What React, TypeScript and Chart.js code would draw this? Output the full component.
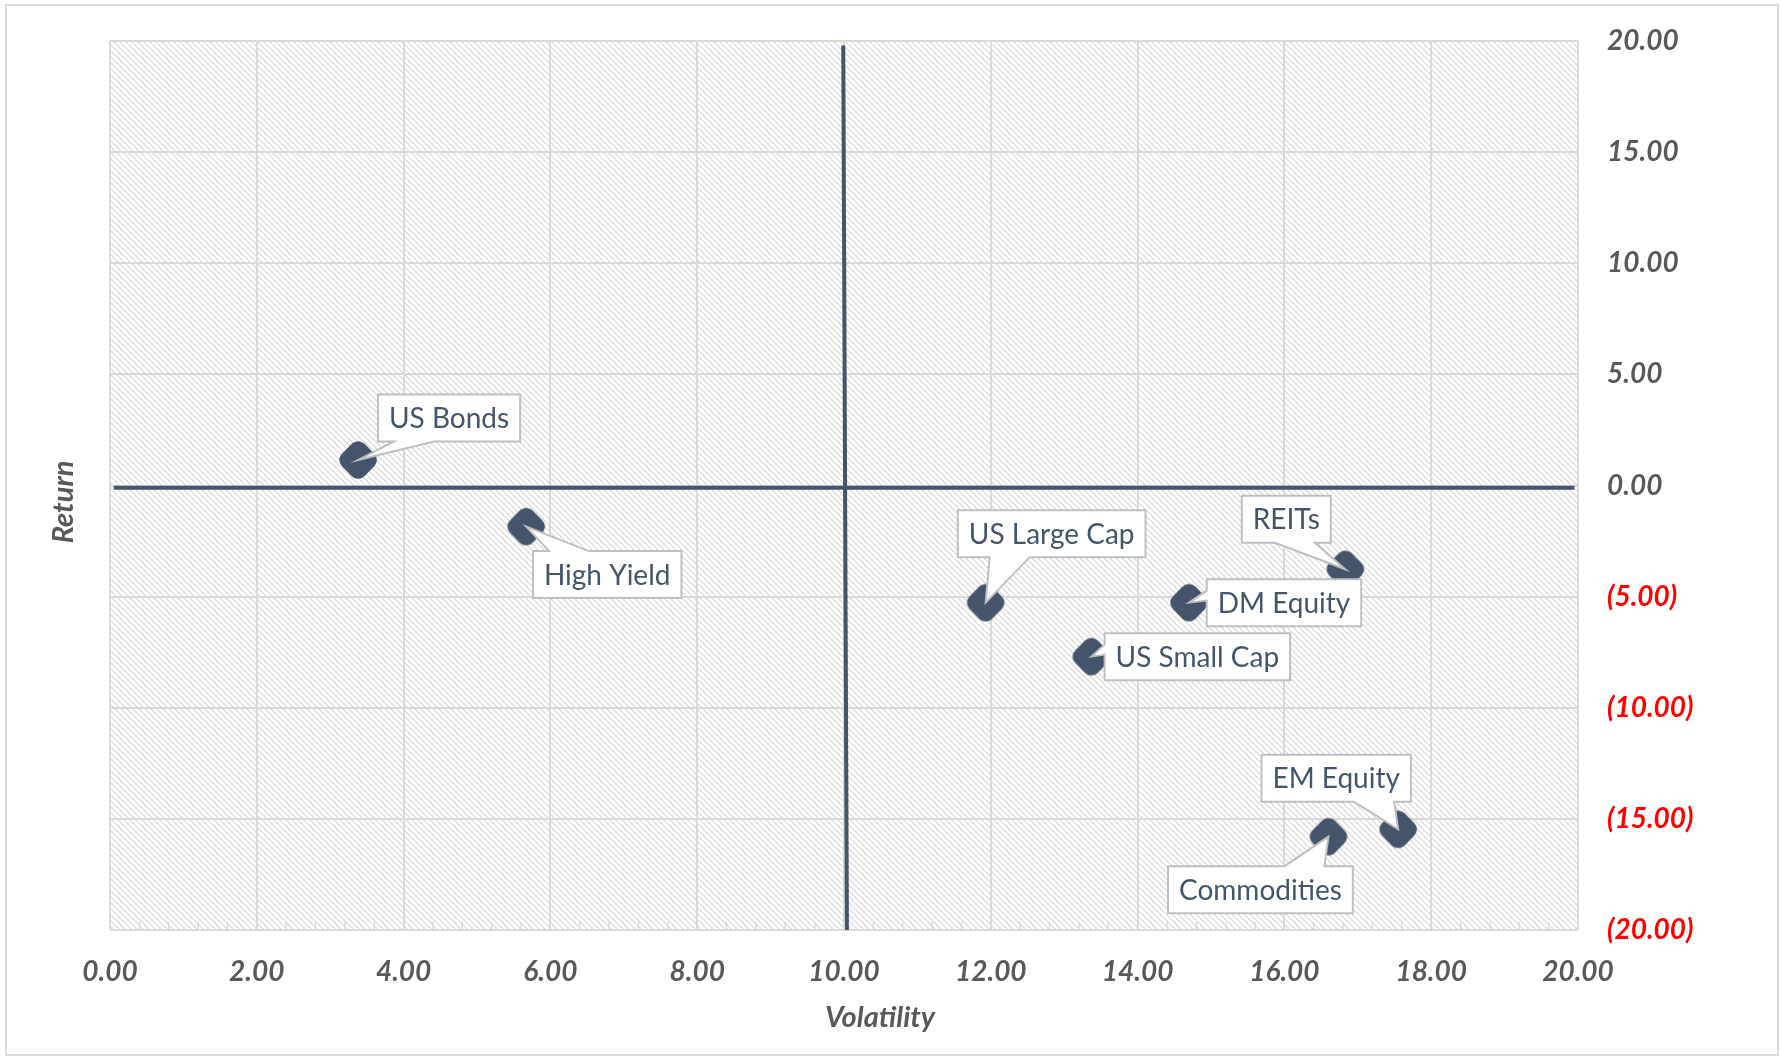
import React, { useEffect, useRef } from 'react';
import { Chart, registerables } from 'chart.js';

Chart.register(...registerables);

// Asset classes plotted as volatility (x) vs. return (y)
const assetNames = ['US Bonds', 'High Yield', 'US Large Cap', 'DM Equity', 'US Small Cap', 'REITs', 'EM Equity', 'Commodities'];
const volatility = [3.38, 5.67, 11.93, 14.7, 13.37, 16.83, 17.55, 16.6];
const returns = [1.15, -1.85, -5.27, -5.27, -7.7, -3.77, -15.47, -15.8];

// Quadrant divider lines
const hLineX = [0.05, 19.95];
const hLineY = [-0.1, -0.1];
const vLineX = [9.99, 10.04];
const vLineY = [19.8, -20];

// Axis ranges
const xRange = { min: 0, max: 20, step: 2 };
const yRange = { min: -20, max: 20, step: 5 };

// Callout box placement relative to each marker, in pixels [dx, dy]
const calloutOffsets: Record<string, [number, number]> = {
  'US Bonds': [91, -42],
  'High Yield': [81, 48],
  'US Large Cap': [66, -69],
  'DM Equity': [95, 0],
  'US Small Cap': [106, 0],
  'REITs': [-59, -50],
  'EM Equity': [-62, -51],
  'Commodities': [-68, 53],
};

const SLATE = '#44546A';
const GRID = '#D9D9D9';
const TICK = '#595959';
const FONT = 'Lato';

function makeMarker(): HTMLCanvasElement {
  const c = document.createElement('canvas');
  const s = 48;
  c.width = s;
  c.height = s;
  const ctx = c.getContext('2d')!;
  const m = s / 2;
  const r = 22.5;
  const pts = [
    [m, m - r],
    [m + r, m],
    [m, m + r],
    [m - r, m],
  ];
  ctx.beginPath();
  const start = [(pts[3][0] + pts[0][0]) / 2, (pts[3][1] + pts[0][1]) / 2];
  ctx.moveTo(start[0], start[1]);
  for (let i = 0; i < 4; i++) {
    const p = pts[i];
    const n = pts[(i + 1) % 4];
    ctx.arcTo(p[0], p[1], n[0], n[1], 9);
  }
  ctx.closePath();
  ctx.fillStyle = SLATE;
  ctx.fill();
  return c;
}

function makeHatch(ctx: CanvasRenderingContext2D): CanvasPattern | string {
  const c = document.createElement('canvas');
  const s = 6;
  c.width = s;
  c.height = s;
  const g = c.getContext('2d')!;
  g.fillStyle = '#FFFFFF';
  g.fillRect(0, 0, s, s);
  g.strokeStyle = '#D6D6D6';
  g.lineWidth = 1.2;
  for (const off of [-s, 0, s]) {
    g.beginPath();
    g.moveTo(off, 0);
    g.lineTo(off + s, s);
    g.stroke();
  }
  return ctx.createPattern(c, 'repeat') || '#FFFFFF';
}

const framePlugin = {
  id: 'frame',
  beforeDraw(chart: any) {
    const { ctx, chartArea } = chart;
    ctx.save();
    ctx.fillStyle = '#FFFFFF';
    ctx.fillRect(0, 0, chart.width, chart.height);
    ctx.strokeStyle = GRID;
    ctx.lineWidth = 2;
    ctx.strokeRect(6, 5, 1772, 1050);
    ctx.fillStyle = makeHatch(ctx);
    ctx.fillRect(chartArea.left, chartArea.top, chartArea.right - chartArea.left, chartArea.bottom - chartArea.top);
    ctx.restore();
  },
  afterDraw(chart: any) {
    const { ctx, chartArea, scales } = chart;
    ctx.save();
    // minor ticks along the bottom edge
    ctx.strokeStyle = GRID;
    ctx.lineWidth = 1.5;
    for (let v = xRange.min; v <= xRange.max + 1e-9; v += 0.4) {
      const x = scales.x.getPixelForValue(v);
      ctx.beginPath();
      ctx.moveTo(x, chartArea.bottom);
      ctx.lineTo(x, chartArea.bottom - 8);
      ctx.stroke();
    }
    // axis titles
    ctx.fillStyle = TICK;
    ctx.font = `italic bold 29px ${FONT}`;
    ctx.textAlign = 'center';
    ctx.textBaseline = 'middle';
    ctx.fillText('Volatility', 880, 1018);
    ctx.translate(64, 502);
    ctx.rotate(-Math.PI / 2);
    ctx.fillText('Return', 0, 0);
    ctx.restore();
  },
};

const calloutPlugin = {
  id: 'callouts',
  afterDatasetsDraw(chart: any) {
    const { ctx } = chart;
    const meta = chart.getDatasetMeta(2);
    ctx.save();
    ctx.font = `28px ${FONT}`;
    meta.data.forEach((el: any, i: number) => {
      const name = assetNames[i];
      const [dx, dy] = calloutOffsets[name];
      const px = el.x;
      const py = el.y;
      const tw = ctx.measureText(name).width;
      const w = tw + 22;
      const h = 47;
      const cx = px + dx;
      const cy = py + dy;
      const L = cx - w / 2;
      const R = cx + w / 2;
      const T = cy - h / 2;
      const B = cy + h / 2;
      const clamp = (v: number, a: number, b: number) => Math.max(a, Math.min(b, v));

      ctx.beginPath();
      if (Math.abs(dy) < 10) {
        const b1 = clamp(py - 12, T + 4, B - 14);
        const b2 = b1 + 10;
        if (dx > 0) {
          ctx.moveTo(L, T);
          ctx.lineTo(R, T);
          ctx.lineTo(R, B);
          ctx.lineTo(L, B);
          ctx.lineTo(L, b2);
          ctx.lineTo(px, py);
          ctx.lineTo(L, b1);
        } else {
          ctx.moveTo(L, T);
          ctx.lineTo(R, T);
          ctx.lineTo(R, b1);
          ctx.lineTo(px, py);
          ctx.lineTo(R, b2);
          ctx.lineTo(R, B);
          ctx.lineTo(L, B);
        }
      } else {
        const a = clamp(px, L + 12, R - 12);
        let b1: number;
        let b2: number;
        if (px < cx) {
          b1 = a + 4;
          b2 = a + 44;
        } else {
          b1 = a - 44;
          b2 = a - 4;
        }
        if (dy < 0) {
          ctx.moveTo(L, T);
          ctx.lineTo(R, T);
          ctx.lineTo(R, B);
          ctx.lineTo(b2, B);
          ctx.lineTo(px, py);
          ctx.lineTo(b1, B);
          ctx.lineTo(L, B);
        } else {
          ctx.moveTo(L, T);
          ctx.lineTo(b1, T);
          ctx.lineTo(px, py);
          ctx.lineTo(b2, T);
          ctx.lineTo(R, T);
          ctx.lineTo(R, B);
          ctx.lineTo(L, B);
        }
      }
      ctx.closePath();
      ctx.fillStyle = '#FFFFFF';
      ctx.fill();
      ctx.strokeStyle = '#BFBFBF';
      ctx.lineWidth = 2;
      ctx.lineJoin = 'miter';
      ctx.stroke();

      ctx.fillStyle = SLATE;
      ctx.textAlign = 'center';
      ctx.textBaseline = 'middle';
      ctx.fillText(name, cx, cy + 1);
    });
    ctx.restore();
  },
};

export default function App() {
  const canvasRef = useRef<HTMLCanvasElement | null>(null);

  useEffect(() => {
    document.body.style.margin = '0';
    const canvas = canvasRef.current;
    if (!canvas) return;
    const marker = makeMarker();

    const chart = new Chart(canvas, {
      type: 'scatter',
      data: {
        datasets: [
          {
            label: 'Return axis',
            data: hLineX.map((x, i) => ({ x, y: hLineY[i] })),
            showLine: true,
            borderColor: SLATE,
            borderWidth: 4,
            pointRadius: 0,
          },
          {
            label: 'Volatility axis',
            data: vLineX.map((x, i) => ({ x, y: vLineY[i] })),
            showLine: true,
            borderColor: SLATE,
            borderWidth: 4,
            pointRadius: 0,
          },
          {
            label: 'Assets',
            data: volatility.map((x, i) => ({ x, y: returns[i] })),
            pointStyle: marker,
            pointRadius: 19,
            backgroundColor: SLATE,
            borderColor: SLATE,
          },
        ],
      },
      options: {
        responsive: false,
        animation: false,
        devicePixelRatio: 1,
        layout: { padding: { left: 110, top: 41, right: 0, bottom: 0 } },
        plugins: {
          legend: { display: false },
          tooltip: { enabled: false },
        },
        scales: {
          x: {
            type: 'linear',
            position: 'bottom',
            min: xRange.min,
            max: xRange.max,
            afterFit(scale: any) {
              scale.height = 128;
              scale.paddingLeft = 0;
              scale.paddingRight = 0;
            },
            grid: { color: GRID, lineWidth: 2, drawTicks: false },
            border: { display: false },
            ticks: {
              stepSize: xRange.step,
              autoSkip: false,
              maxRotation: 0,
              padding: 25,
              color: TICK,
              font: { family: FONT, size: 28, style: 'italic', weight: 'bold' },
              callback: (v: any) => Number(v).toFixed(2),
            },
          },
          y: {
            type: 'linear',
            position: 'right',
            min: yRange.min,
            max: yRange.max,
            afterFit(scale: any) {
              scale.width = 203;
              scale.paddingTop = 0;
              scale.paddingBottom = 0;
            },
            grid: { color: GRID, lineWidth: 2, drawTicks: false },
            border: { display: false },
            ticks: {
              stepSize: yRange.step,
              autoSkip: false,
              padding: 29,
              crossAlign: 'near',
              color: (c: any) => (c.tick && c.tick.value < 0 ? '#FF0000' : TICK),
              font: { family: FONT, size: 28, style: 'italic', weight: 'bold' },
              callback: (v: any) => {
                const n = Number(v);
                return n < 0 ? `(${Math.abs(n).toFixed(2)})` : n.toFixed(2);
              },
            },
          },
        },
      },
      plugins: [framePlugin, calloutPlugin],
    } as any);

    return () => chart.destroy();
  }, []);

  return (
    <div style={{ width: 1781, height: 1058, position: 'relative' }}>
      <canvas ref={canvasRef} width={1781} height={1058} style={{ display: 'block' }} />
    </div>
  );
}
